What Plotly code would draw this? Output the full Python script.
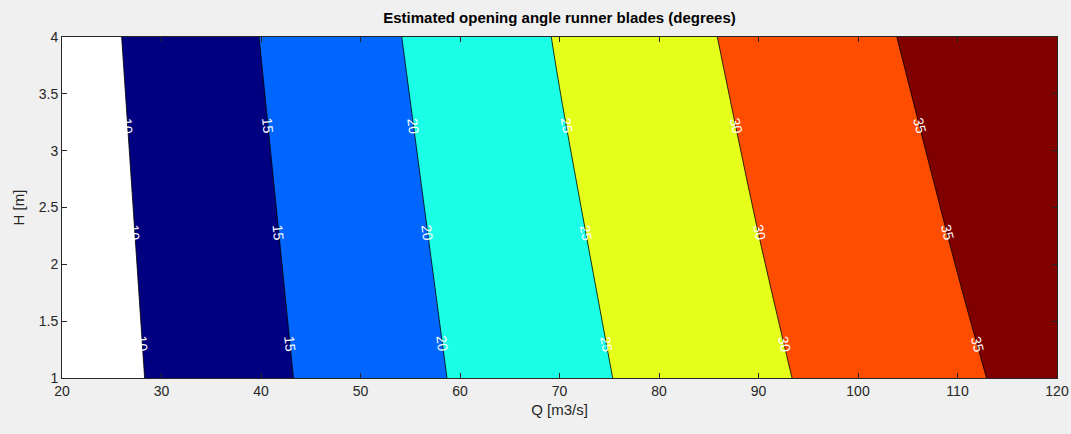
import numpy as np
import plotly.graph_objects as go

# Grid of discharge Q [m3/s] and head H [m]
q_values = [20, 30, 40, 50, 60, 70, 80, 90, 100, 110, 120]
h_values = [1, 4]
# Estimated opening angle (degrees), one row per H
angle_h1 = [7.21, 10.57, 13.93, 17.21, 20.42, 23.45, 26.35, 29.12, 31.73, 34.26, 36.80]
angle_h4 = [7.83, 11.45, 15.07, 18.59, 21.99, 25.27, 28.30, 31.20, 33.93, 36.67, 39.40]

levels = [10, 15, 20, 25, 30, 35]
label_h = [3.22, 2.28, 1.30]

band_colors = ["#FFFFFF", "#000080", "#0066FF", "#1AFFE6", "#E6FF1A", "#FF4D00", "#800000"]

x_ticks = [20, 30, 40, 50, 60, 70, 80, 90, 100, 110, 120]
y_ticks = [1, 1.5, 2, 2.5, 3, 3.5, 4]

W, H = 1071, 434
ml, mr, mt, mb = 62, 14, 37, 56
pw, ph = W - ml - mr, H - mt - mb

z = [angle_h1, angle_h4]
n = len(band_colors) - 1
colorscale = [[i / n, c] for i, c in enumerate(band_colors)]

fig = go.Figure()
fig.add_trace(go.Contour(
    x=q_values, y=h_values, z=z,
    autocontour=False,
    contours=dict(start=levels[0], end=levels[-1], size=levels[1] - levels[0],
                  coloring="fill", showlabels=False),
    colorscale=colorscale, showscale=False,
    line=dict(color="black", width=0.8),
    hoverinfo="skip",
))

# Contour labels, positioned from the data
px_q = pw / (q_values[-1] - q_values[0])
px_h = ph / (h_values[-1] - h_values[0])
annotations = []
for lv in levels:
    q1 = float(np.interp(lv, angle_h1, q_values))
    q4 = float(np.interp(lv, angle_h4, q_values))
    ang = np.degrees(np.arctan2((h_values[-1] - h_values[0]) * px_h, (q1 - q4) * px_q))
    for hh in label_h:
        t = (hh - h_values[0]) / (h_values[-1] - h_values[0])
        qq = q1 + (q4 - q1) * t
        annotations.append(dict(
            x=qq, y=hh, xref="x", yref="y", text=str(lv), showarrow=False,
            textangle=float(ang), font=dict(color="white", size=14, family="Liberation Sans"),
        ))

axis_common = dict(
    showgrid=False, zeroline=False, ticks="inside", ticklen=5, tickwidth=1,
    tickcolor="#262626", showline=True, linecolor="#262626", linewidth=1,
    mirror="ticks", automargin=False,
    tickfont=dict(size=14, color="#262626", family="Liberation Sans"),
)

fig.update_layout(
    width=W, height=H,
    margin=dict(l=ml, r=mr, t=mt, b=mb),
    paper_bgcolor="#F0F0F0", plot_bgcolor="white",
    title=dict(text="<b>Estimated opening angle runner blades (degrees)</b>",
               x=(ml + pw / 2) / W, xanchor="center", y=1 - 18 / H, yanchor="middle",
               font=dict(size=15, color="black", family="Liberation Sans")),
    xaxis=dict(range=[20, 120], tickvals=x_ticks,
               title=dict(text="Q [m3/s]", font=dict(size=15, color="#262626", family="Liberation Sans"), standoff=6),
               **axis_common),
    yaxis=dict(range=[1, 4], tickvals=y_ticks,
               title=dict(text="H [m]", font=dict(size=15, color="#262626", family="Liberation Sans"), standoff=10),
               **axis_common),
    annotations=annotations,
    font=dict(family="Liberation Sans"),
)

fig.write_html("out.html")
